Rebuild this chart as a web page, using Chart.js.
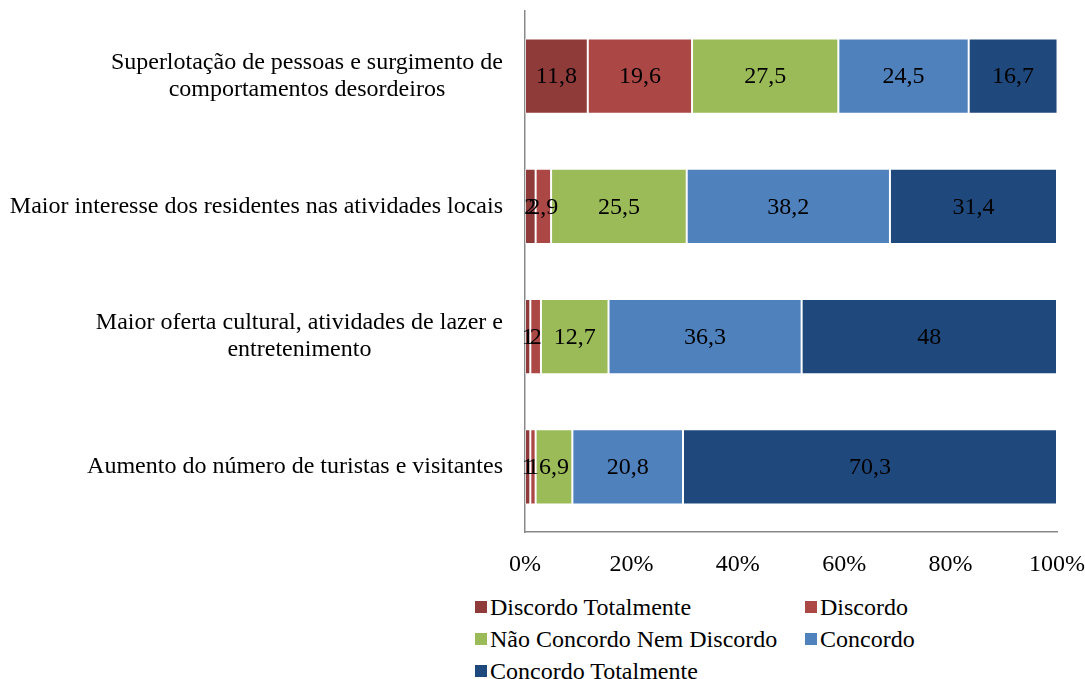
<!DOCTYPE html>
<html>
<head>
<meta charset="utf-8">
<script src="https://cdn.jsdelivr.net/npm/chart.js@4/dist/chart.umd.min.js"></script>
<style>
  body { margin: 0; background: #fff; }
  #wrap { position: relative; width: 1085px; height: 679px; }
  #legend {
    position: absolute; left: 475px; top: 591px;
    display: grid; grid-template-columns: 330px 260px;
    font-family: 'Liberation Serif', 'Times New Roman', serif; font-size: 24px; color: #000;
  }
  .item { display: flex; align-items: center; height: 32px; white-space: nowrap; }
  .box { width: 12px; height: 12px; margin-right: 3px; flex: none; }
</style>
</head>
<body>
<div id="wrap">
  <canvas id="my-chart" width="1085" height="590"></canvas>
  <div id="legend"></div>
</div>
<script>
'use strict';

// ***** DATA *****

let categories = [
  ['Superlotação de pessoas e surgimento de', 'comportamentos desordeiros'],
  ['Maior interesse dos residentes nas atividades locais'],
  ['Maior oferta cultural, atividades de lazer e', 'entretenimento'],
  ['Aumento do número de turistas e visitantes']
];

let seriesNames = ['Discordo Totalmente', 'Discordo', 'Não Concordo Nem Discordo', 'Concordo', 'Concordo Totalmente'];
let seriesColors = ['#8f3b39', '#ab4745', '#9bbb59', '#4f81bd', '#1f497d'];

let discordoTotalmente = [11.8, 2, 1, 1];
let discordo = [19.6, 2.9, 2, 1];
let neutro = [27.5, 25.5, 12.7, 6.9];
let concordo = [24.5, 38.2, 36.3, 20.8];
let concordoTotalmente = [16.7, 31.4, 48, 70.3];

let xTicks = [0, 20, 40, 60, 80, 100];

let seriesValues = [discordoTotalmente, discordo, neutro, concordo, concordoTotalmente];

const FONT = "'Liberation Serif', 'Times New Roman', serif";

// ***** PLUGINS *****

let valueLabels = {
  id: 'valueLabels',
  afterDatasetsDraw(chart) {
    let c = chart.ctx;
    c.save();
    c.font = '24px ' + FONT;
    c.fillStyle = '#000';
    c.textAlign = 'center';
    c.textBaseline = 'middle';
    chart.data.datasets.forEach((ds, i) => {
      chart.getDatasetMeta(i).data.forEach((bar, j) => {
        let txt = String(ds.data[j]).replace('.', ',');
        c.fillText(txt, (bar.x + bar.base) / 2, bar.y + 1);
      });
    });
    c.restore();
  }
};

let categoryLabels = {
  id: 'categoryLabels',
  afterDraw(chart) {
    let c = chart.ctx;
    let yScale = chart.scales.y;
    let right = chart.chartArea.left - 22;
    c.save();
    c.font = '24px ' + FONT;
    c.fillStyle = '#000';
    c.textAlign = 'center';
    c.textBaseline = 'middle';
    categories.forEach((lines, i) => {
      let maxW = Math.max(...lines.map(l => c.measureText(l).width));
      let cx = right - maxW / 2;
      let cy = yScale.getPixelForValue(i);
      lines.forEach((l, k) => {
        c.fillText(l, cx, cy + (k - (lines.length - 1) / 2) * 27);
      });
    });
    c.restore();
  }
};

// ***** CHART *****

let datasets = seriesNames.map((name, i) => ({
  label: name,
  data: seriesValues[i],
  backgroundColor: seriesColors[i],
  borderColor: 'rgba(255,255,255,0.35)',
  borderWidth: 1,
  borderSkipped: false,
  barPercentage: 0.576,
  categoryPercentage: 1
}));

let ctx = document.getElementById('my-chart');

new Chart(ctx, {
  type: 'bar',
  data: { labels: categories.map(l => l.join(' ')), datasets: datasets },
  options: {
    indexAxis: 'y',
    responsive: false,
    animation: false,
    layout: { padding: { top: 11, right: 28, left: 0, bottom: 0 } },
    plugins: { legend: { display: false }, tooltip: { enabled: false } },
    scales: {
      x: {
        stacked: true,
        min: 0,
        max: 100,
        afterBuildTicks: s => { s.ticks = xTicks.map(v => ({ value: v })); },
        afterFit: s => { s.height = 58; s.paddingLeft = 0; s.paddingRight = 0; },
        grid: { display: false, drawTicks: false },
        border: { display: true, color: '#898989', width: 1.5 },
        ticks: {
          padding: 18,
          color: '#000',
          maxRotation: 0,
          font: { family: FONT, size: 24 },
          callback: v => v + '%'
        }
      },
      y: {
        stacked: true,
        afterFit: s => { s.width = 525; s.paddingTop = 0; s.paddingBottom = 0; },
        grid: { display: false, drawTicks: false },
        border: { display: true, color: '#898989', width: 1.5 },
        ticks: { display: false }
      }
    }
  },
  plugins: [valueLabels, categoryLabels]
});

// ***** LEGEND *****

let legend = document.getElementById('legend');
seriesNames.forEach((name, i) => {
  let item = document.createElement('div');
  item.className = 'item';
  let box = document.createElement('span');
  box.className = 'box';
  box.style.background = seriesColors[i];
  item.appendChild(box);
  item.appendChild(document.createTextNode(name));
  legend.appendChild(item);
});
</script>
</body>
</html>
